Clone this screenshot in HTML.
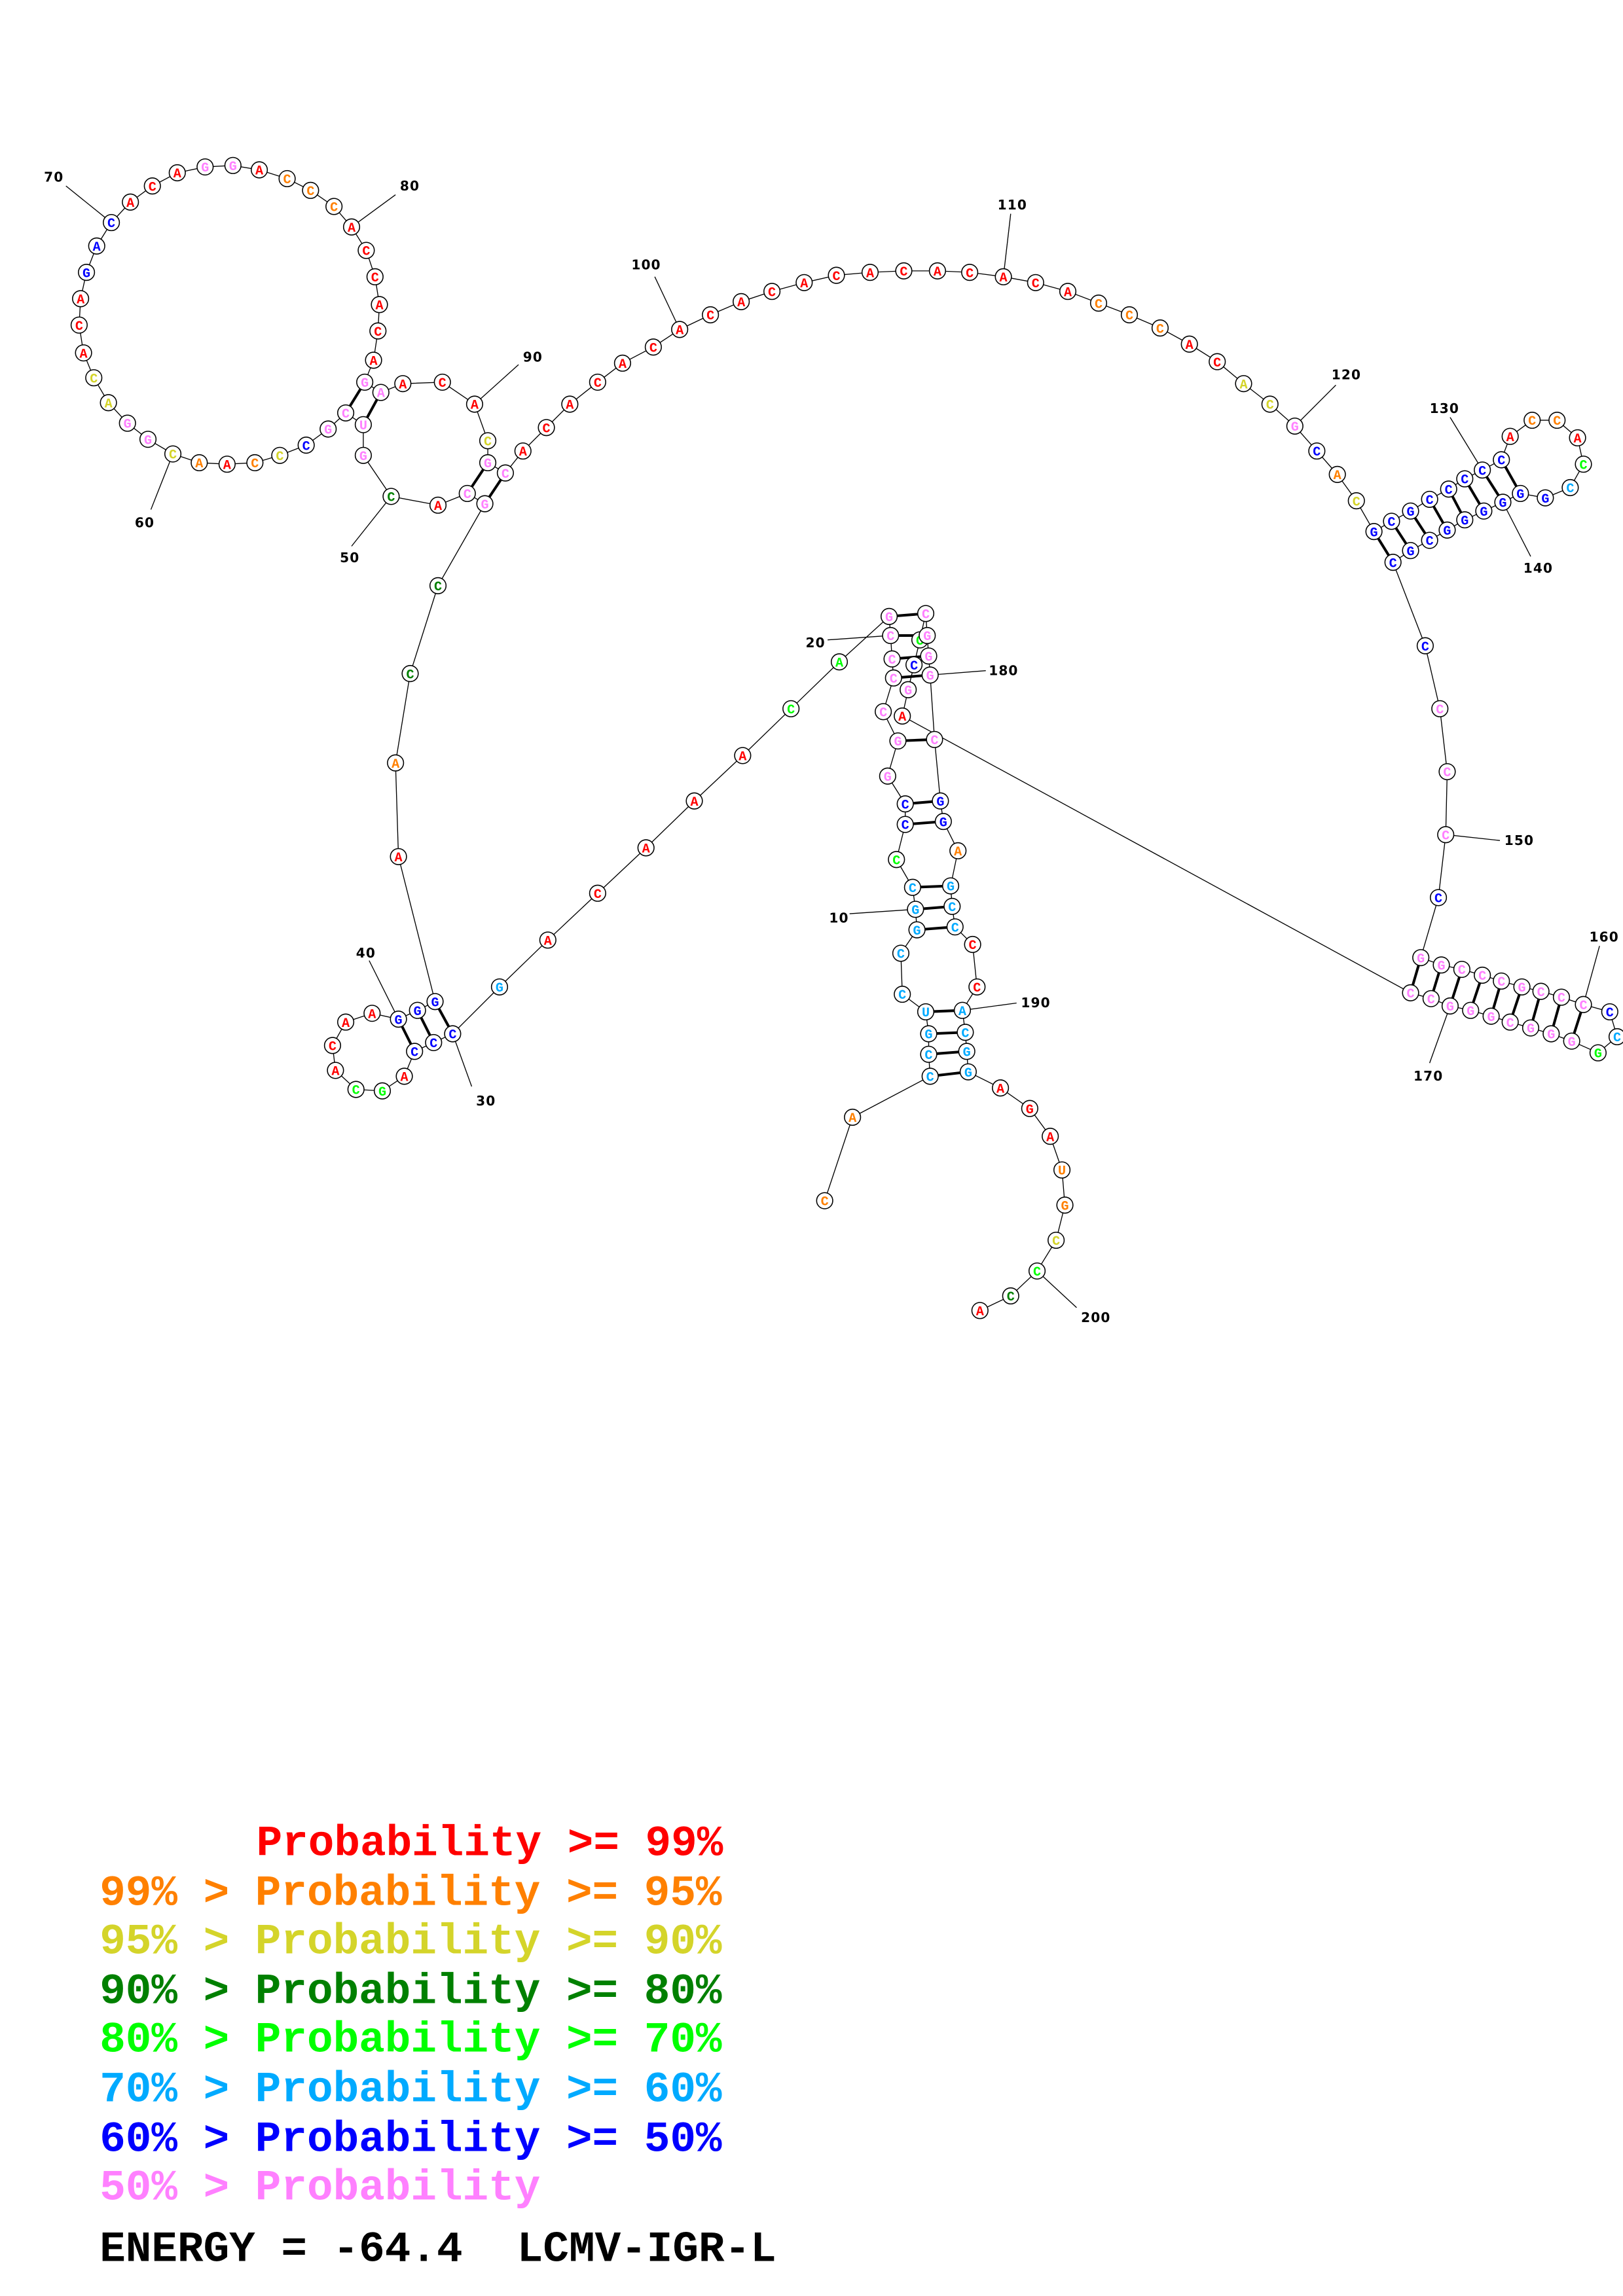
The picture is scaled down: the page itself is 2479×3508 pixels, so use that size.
<!DOCTYPE html>
<html><head><meta charset="utf-8"><style>
html,body{margin:0;padding:0;background:#fff}
svg{display:block}
.n circle{fill:#fff;stroke:#000;stroke-width:0.7}
.n text{font-family:"Liberation Mono",monospace;font-weight:bold;font-size:9px;text-anchor:middle}
.R{fill:#ff0000}.O{fill:#ff8000}.Y{fill:#d4d42a}.D{fill:#008000}.L{fill:#00ff00}.B{fill:#00aaff}.U{fill:#0000ff}.P{fill:#ff80ff}
.lab{font-family:"DejaVu Sans",sans-serif;font-weight:bold;font-size:9px;fill:#000;letter-spacing:0.5px}
.leg{font-family:"Liberation Mono",monospace;font-weight:bold;font-size:29.5px}
</style></head><body>
<svg width="2479" height="3508" viewBox="0 0 1108 1568" xmlns="http://www.w3.org/2000/svg">
<polyline fill="none" stroke="#000" stroke-width="0.6" points="563,820 582,763 635,735 634,720 634,706 632,691 616,679 615,651 626,635 625,621 623,606 612,587 618,563 618,549 606,530 613,506 603,486 610,463 609,450 608,434 607,421 573,452 540,484 507,516 474,547 441,579 408,610 374,642 341,674 309,706 296,712 283,718 276,735 261,745 243,744 229,731 227,714 236,698 254,692 272,696 285,690 297,684 272,585 270,521 280,460 299,400 331,344 319,337 299,345 267,339 248,311 248,290 236,282 224,293 209,304 191,311 174,316 155,317 136,316 118,310 101,300 87,289 74,275 64,258 57,241 54,222 55,204 59,186 66,168 76,152 89,138 104,127 121,118 140,114 159,113 177,116 196,122 212,130 228,141 240,155 250,171 256,189 259,208 258,226 255,246 249,261 260,268 275,262 302,261 324,276 333,301 333,316 345,323 357,308 373,292 389,276 408,261 425,248 446,237 464,225 485,215 506,206 527,199 549,193 571,188 594,186 617,185 640,185 662,186 685,189 707,193 729,199 750,207 771,215 792,224 812,235 831,247 849,262 867,276 884,291 899,308 913,324 926,342 938,363 950,356 963,349 976,341 989,334 1000,327 1012,321 1025,314 1031,298 1046,287 1063,287 1077,299 1081,317 1072,333 1055,340 1038,337 1026,343 1013,349 1000,355 988,362 976,369 963,376 951,384 973,441 983,484 988,527 987,570 982,613 970,654 984,659 998,662 1012,666 1025,670 1039,674 1052,677 1066,681 1081,686 1099,691 1104,708 1091,719 1073,711 1059,706 1045,702 1031,698 1018,694 1004,690 990,687 977,682 963,678 616,489 620,471 624,454 628,437 632,419 633,434 634,448 635,461 638,505 642,547 644,561 654,581 649,605 650,619 652,633 664,645 667,674 657,690 659,705 660,718 661,732 683,743 703,757 717,776 725,799 727,823 721,847 708,868 690,885 669,895"/>
<g stroke="#000" stroke-width="1.8">
<line x1="635" y1="735" x2="661" y2="732"/><line x1="634" y1="720" x2="660" y2="718"/><line x1="634" y1="706" x2="659" y2="705"/><line x1="632" y1="691" x2="657" y2="690"/>
<line x1="626" y1="635" x2="652" y2="633"/><line x1="625" y1="621" x2="650" y2="619"/><line x1="623" y1="606" x2="649" y2="605"/>
<line x1="618" y1="563" x2="644" y2="561"/><line x1="618" y1="549" x2="642" y2="547"/><line x1="613" y1="506" x2="638" y2="505"/>
<line x1="610" y1="463" x2="635" y2="461"/><line x1="609" y1="450" x2="634" y2="448"/><line x1="608" y1="434" x2="633" y2="434"/><line x1="607" y1="421" x2="632" y2="419"/>
<line x1="309" y1="706" x2="297" y2="684"/><line x1="296" y1="712" x2="285" y2="690"/><line x1="283" y1="718" x2="272" y2="696"/>
<line x1="331" y1="344" x2="345" y2="323"/><line x1="319" y1="337" x2="333" y2="316"/><line x1="248" y1="290" x2="260" y2="268"/><line x1="236" y1="282" x2="249" y2="261"/>
<line x1="938" y1="363" x2="951" y2="384"/><line x1="950" y1="356" x2="963" y2="376"/><line x1="963" y1="349" x2="976" y2="369"/><line x1="976" y1="341" x2="988" y2="362"/><line x1="989" y1="334" x2="1000" y2="355"/><line x1="1000" y1="327" x2="1013" y2="349"/><line x1="1012" y1="321" x2="1026" y2="343"/><line x1="1025" y1="314" x2="1038" y2="337"/>
<line x1="970" y1="654" x2="963" y2="678"/><line x1="984" y1="659" x2="977" y2="682"/><line x1="998" y1="662" x2="990" y2="687"/><line x1="1012" y1="666" x2="1004" y2="690"/><line x1="1025" y1="670" x2="1018" y2="694"/><line x1="1039" y1="674" x2="1031" y2="698"/><line x1="1052" y1="677" x2="1045" y2="702"/><line x1="1066" y1="681" x2="1059" y2="706"/><line x1="1081" y1="686" x2="1073" y2="711"/>
</g>
<g stroke="#000" stroke-width="0.6">
<line x1="580" y1="624" x2="625" y2="621"/><line x1="565" y1="437" x2="608" y2="434"/><line x1="322" y1="742" x2="309" y2="706"/><line x1="252" y1="656" x2="272" y2="696"/><line x1="240" y1="373" x2="267" y2="339"/><line x1="103" y1="348" x2="118" y2="310"/><line x1="45" y1="127" x2="76" y2="152"/><line x1="270" y1="133" x2="240" y2="155"/><line x1="354" y1="249" x2="324" y2="276"/><line x1="447" y1="189" x2="464" y2="225"/><line x1="690" y1="146" x2="685" y2="189"/><line x1="912" y1="263" x2="884" y2="291"/><line x1="990" y1="285" x2="1012" y2="321"/><line x1="1045" y1="380" x2="1026" y2="343"/><line x1="987" y1="570" x2="1024" y2="574"/><line x1="1092" y1="646" x2="1081" y2="686"/><line x1="976" y1="726" x2="990" y2="687"/><line x1="635" y1="461" x2="673" y2="458"/><line x1="657" y1="690" x2="694" y2="685"/><line x1="708" y1="868" x2="735" y2="893"/>
</g>
<g>
<text class="lab" x="566" y="630">10</text><text class="lab" x="550" y="442">20</text><text class="lab" x="325" y="755">30</text><text class="lab" x="243" y="654">40</text><text class="lab" x="232" y="384">50</text><text class="lab" x="92" y="360">60</text><text class="lab" x="30" y="124">70</text><text class="lab" x="273" y="130">80</text><text class="lab" x="357" y="247">90</text><text class="lab" x="431" y="184">100</text><text class="lab" x="681" y="143">110</text><text class="lab" x="909" y="259">120</text><text class="lab" x="976" y="282">130</text><text class="lab" x="1040" y="391">140</text><text class="lab" x="1027" y="577">150</text><text class="lab" x="1085" y="643">160</text><text class="lab" x="965" y="738">170</text><text class="lab" x="675" y="461">180</text><text class="lab" x="697" y="688">190</text><text class="lab" x="738" y="903">200</text>
</g>
<g class="n">
<circle cx="563" cy="820" r="5.5"/><text x="563" y="823.2" class="O">C</text>
<circle cx="582" cy="763" r="5.5"/><text x="582" y="766.2" class="O">A</text>
<circle cx="635" cy="735" r="5.5"/><text x="635" y="738.2" class="B">C</text>
<circle cx="634" cy="720" r="5.5"/><text x="634" y="723.2" class="B">C</text>
<circle cx="634" cy="706" r="5.5"/><text x="634" y="709.2" class="B">G</text>
<circle cx="632" cy="691" r="5.5"/><text x="632" y="694.2" class="B">U</text>
<circle cx="616" cy="679" r="5.5"/><text x="616" y="682.2" class="B">C</text>
<circle cx="615" cy="651" r="5.5"/><text x="615" y="654.2" class="B">C</text>
<circle cx="626" cy="635" r="5.5"/><text x="626" y="638.2" class="B">G</text>
<circle cx="625" cy="621" r="5.5"/><text x="625" y="624.2" class="B">G</text>
<circle cx="623" cy="606" r="5.5"/><text x="623" y="609.2" class="B">C</text>
<circle cx="612" cy="587" r="5.5"/><text x="612" y="590.2" class="L">C</text>
<circle cx="618" cy="563" r="5.5"/><text x="618" y="566.2" class="U">C</text>
<circle cx="618" cy="549" r="5.5"/><text x="618" y="552.2" class="U">C</text>
<circle cx="606" cy="530" r="5.5"/><text x="606" y="533.2" class="P">G</text>
<circle cx="613" cy="506" r="5.5"/><text x="613" y="509.2" class="P">G</text>
<circle cx="603" cy="486" r="5.5"/><text x="603" y="489.2" class="P">C</text>
<circle cx="610" cy="463" r="5.5"/><text x="610" y="466.2" class="P">C</text>
<circle cx="609" cy="450" r="5.5"/><text x="609" y="453.2" class="P">C</text>
<circle cx="608" cy="434" r="5.5"/><text x="608" y="437.2" class="P">C</text>
<circle cx="607" cy="421" r="5.5"/><text x="607" y="424.2" class="P">G</text>
<circle cx="573" cy="452" r="5.5"/><text x="573" y="455.2" class="L">A</text>
<circle cx="540" cy="484" r="5.5"/><text x="540" y="487.2" class="L">C</text>
<circle cx="507" cy="516" r="5.5"/><text x="507" y="519.2" class="R">A</text>
<circle cx="474" cy="547" r="5.5"/><text x="474" y="550.2" class="R">A</text>
<circle cx="441" cy="579" r="5.5"/><text x="441" y="582.2" class="R">A</text>
<circle cx="408" cy="610" r="5.5"/><text x="408" y="613.2" class="R">C</text>
<circle cx="374" cy="642" r="5.5"/><text x="374" y="645.2" class="R">A</text>
<circle cx="341" cy="674" r="5.5"/><text x="341" y="677.2" class="B">G</text>
<circle cx="309" cy="706" r="5.5"/><text x="309" y="709.2" class="U">C</text>
<circle cx="296" cy="712" r="5.5"/><text x="296" y="715.2" class="U">C</text>
<circle cx="283" cy="718" r="5.5"/><text x="283" y="721.2" class="U">C</text>
<circle cx="276" cy="735" r="5.5"/><text x="276" y="738.2" class="R">A</text>
<circle cx="261" cy="745" r="5.5"/><text x="261" y="748.2" class="L">G</text>
<circle cx="243" cy="744" r="5.5"/><text x="243" y="747.2" class="L">C</text>
<circle cx="229" cy="731" r="5.5"/><text x="229" y="734.2" class="R">A</text>
<circle cx="227" cy="714" r="5.5"/><text x="227" y="717.2" class="R">C</text>
<circle cx="236" cy="698" r="5.5"/><text x="236" y="701.2" class="R">A</text>
<circle cx="254" cy="692" r="5.5"/><text x="254" y="695.2" class="R">A</text>
<circle cx="272" cy="696" r="5.5"/><text x="272" y="699.2" class="U">G</text>
<circle cx="285" cy="690" r="5.5"/><text x="285" y="693.2" class="U">G</text>
<circle cx="297" cy="684" r="5.5"/><text x="297" y="687.2" class="U">G</text>
<circle cx="272" cy="585" r="5.5"/><text x="272" y="588.2" class="R">A</text>
<circle cx="270" cy="521" r="5.5"/><text x="270" y="524.2" class="O">A</text>
<circle cx="280" cy="460" r="5.5"/><text x="280" y="463.2" class="D">C</text>
<circle cx="299" cy="400" r="5.5"/><text x="299" y="403.2" class="D">C</text>
<circle cx="331" cy="344" r="5.5"/><text x="331" y="347.2" class="P">G</text>
<circle cx="319" cy="337" r="5.5"/><text x="319" y="340.2" class="P">C</text>
<circle cx="299" cy="345" r="5.5"/><text x="299" y="348.2" class="R">A</text>
<circle cx="267" cy="339" r="5.5"/><text x="267" y="342.2" class="D">C</text>
<circle cx="248" cy="311" r="5.5"/><text x="248" y="314.2" class="P">G</text>
<circle cx="248" cy="290" r="5.5"/><text x="248" y="293.2" class="P">U</text>
<circle cx="236" cy="282" r="5.5"/><text x="236" y="285.2" class="P">C</text>
<circle cx="224" cy="293" r="5.5"/><text x="224" y="296.2" class="P">G</text>
<circle cx="209" cy="304" r="5.5"/><text x="209" y="307.2" class="U">C</text>
<circle cx="191" cy="311" r="5.5"/><text x="191" y="314.2" class="Y">C</text>
<circle cx="174" cy="316" r="5.5"/><text x="174" y="319.2" class="O">C</text>
<circle cx="155" cy="317" r="5.5"/><text x="155" y="320.2" class="R">A</text>
<circle cx="136" cy="316" r="5.5"/><text x="136" y="319.2" class="O">A</text>
<circle cx="118" cy="310" r="5.5"/><text x="118" y="313.2" class="Y">C</text>
<circle cx="101" cy="300" r="5.5"/><text x="101" y="303.2" class="P">G</text>
<circle cx="87" cy="289" r="5.5"/><text x="87" y="292.2" class="P">G</text>
<circle cx="74" cy="275" r="5.5"/><text x="74" y="278.2" class="Y">A</text>
<circle cx="64" cy="258" r="5.5"/><text x="64" y="261.2" class="Y">C</text>
<circle cx="57" cy="241" r="5.5"/><text x="57" y="244.2" class="R">A</text>
<circle cx="54" cy="222" r="5.5"/><text x="54" y="225.2" class="R">C</text>
<circle cx="55" cy="204" r="5.5"/><text x="55" y="207.2" class="R">A</text>
<circle cx="59" cy="186" r="5.5"/><text x="59" y="189.2" class="U">G</text>
<circle cx="66" cy="168" r="5.5"/><text x="66" y="171.2" class="U">A</text>
<circle cx="76" cy="152" r="5.5"/><text x="76" y="155.2" class="U">C</text>
<circle cx="89" cy="138" r="5.5"/><text x="89" y="141.2" class="R">A</text>
<circle cx="104" cy="127" r="5.5"/><text x="104" y="130.2" class="R">C</text>
<circle cx="121" cy="118" r="5.5"/><text x="121" y="121.2" class="R">A</text>
<circle cx="140" cy="114" r="5.5"/><text x="140" y="117.2" class="P">G</text>
<circle cx="159" cy="113" r="5.5"/><text x="159" y="116.2" class="P">G</text>
<circle cx="177" cy="116" r="5.5"/><text x="177" y="119.2" class="R">A</text>
<circle cx="196" cy="122" r="5.5"/><text x="196" y="125.2" class="O">C</text>
<circle cx="212" cy="130" r="5.5"/><text x="212" y="133.2" class="O">C</text>
<circle cx="228" cy="141" r="5.5"/><text x="228" y="144.2" class="O">C</text>
<circle cx="240" cy="155" r="5.5"/><text x="240" y="158.2" class="R">A</text>
<circle cx="250" cy="171" r="5.5"/><text x="250" y="174.2" class="R">C</text>
<circle cx="256" cy="189" r="5.5"/><text x="256" y="192.2" class="R">C</text>
<circle cx="259" cy="208" r="5.5"/><text x="259" y="211.2" class="R">A</text>
<circle cx="258" cy="226" r="5.5"/><text x="258" y="229.2" class="R">C</text>
<circle cx="255" cy="246" r="5.5"/><text x="255" y="249.2" class="R">A</text>
<circle cx="249" cy="261" r="5.5"/><text x="249" y="264.2" class="P">G</text>
<circle cx="260" cy="268" r="5.5"/><text x="260" y="271.2" class="P">A</text>
<circle cx="275" cy="262" r="5.5"/><text x="275" y="265.2" class="R">A</text>
<circle cx="302" cy="261" r="5.5"/><text x="302" y="264.2" class="R">C</text>
<circle cx="324" cy="276" r="5.5"/><text x="324" y="279.2" class="R">A</text>
<circle cx="333" cy="301" r="5.5"/><text x="333" y="304.2" class="Y">C</text>
<circle cx="333" cy="316" r="5.5"/><text x="333" y="319.2" class="P">G</text>
<circle cx="345" cy="323" r="5.5"/><text x="345" y="326.2" class="P">C</text>
<circle cx="357" cy="308" r="5.5"/><text x="357" y="311.2" class="R">A</text>
<circle cx="373" cy="292" r="5.5"/><text x="373" y="295.2" class="R">C</text>
<circle cx="389" cy="276" r="5.5"/><text x="389" y="279.2" class="R">A</text>
<circle cx="408" cy="261" r="5.5"/><text x="408" y="264.2" class="R">C</text>
<circle cx="425" cy="248" r="5.5"/><text x="425" y="251.2" class="R">A</text>
<circle cx="446" cy="237" r="5.5"/><text x="446" y="240.2" class="R">C</text>
<circle cx="464" cy="225" r="5.5"/><text x="464" y="228.2" class="R">A</text>
<circle cx="485" cy="215" r="5.5"/><text x="485" y="218.2" class="R">C</text>
<circle cx="506" cy="206" r="5.5"/><text x="506" y="209.2" class="R">A</text>
<circle cx="527" cy="199" r="5.5"/><text x="527" y="202.2" class="R">C</text>
<circle cx="549" cy="193" r="5.5"/><text x="549" y="196.2" class="R">A</text>
<circle cx="571" cy="188" r="5.5"/><text x="571" y="191.2" class="R">C</text>
<circle cx="594" cy="186" r="5.5"/><text x="594" y="189.2" class="R">A</text>
<circle cx="617" cy="185" r="5.5"/><text x="617" y="188.2" class="R">C</text>
<circle cx="640" cy="185" r="5.5"/><text x="640" y="188.2" class="R">A</text>
<circle cx="662" cy="186" r="5.5"/><text x="662" y="189.2" class="R">C</text>
<circle cx="685" cy="189" r="5.5"/><text x="685" y="192.2" class="R">A</text>
<circle cx="707" cy="193" r="5.5"/><text x="707" y="196.2" class="R">C</text>
<circle cx="729" cy="199" r="5.5"/><text x="729" y="202.2" class="R">A</text>
<circle cx="750" cy="207" r="5.5"/><text x="750" y="210.2" class="O">C</text>
<circle cx="771" cy="215" r="5.5"/><text x="771" y="218.2" class="O">C</text>
<circle cx="792" cy="224" r="5.5"/><text x="792" y="227.2" class="O">C</text>
<circle cx="812" cy="235" r="5.5"/><text x="812" y="238.2" class="R">A</text>
<circle cx="831" cy="247" r="5.5"/><text x="831" y="250.2" class="R">C</text>
<circle cx="849" cy="262" r="5.5"/><text x="849" y="265.2" class="Y">A</text>
<circle cx="867" cy="276" r="5.5"/><text x="867" y="279.2" class="Y">C</text>
<circle cx="884" cy="291" r="5.5"/><text x="884" y="294.2" class="P">G</text>
<circle cx="899" cy="308" r="5.5"/><text x="899" y="311.2" class="U">C</text>
<circle cx="913" cy="324" r="5.5"/><text x="913" y="327.2" class="O">A</text>
<circle cx="926" cy="342" r="5.5"/><text x="926" y="345.2" class="Y">C</text>
<circle cx="938" cy="363" r="5.5"/><text x="938" y="366.2" class="U">G</text>
<circle cx="950" cy="356" r="5.5"/><text x="950" y="359.2" class="U">C</text>
<circle cx="963" cy="349" r="5.5"/><text x="963" y="352.2" class="U">G</text>
<circle cx="976" cy="341" r="5.5"/><text x="976" y="344.2" class="U">C</text>
<circle cx="989" cy="334" r="5.5"/><text x="989" y="337.2" class="U">C</text>
<circle cx="1000" cy="327" r="5.5"/><text x="1000" y="330.2" class="U">C</text>
<circle cx="1012" cy="321" r="5.5"/><text x="1012" y="324.2" class="U">C</text>
<circle cx="1025" cy="314" r="5.5"/><text x="1025" y="317.2" class="U">C</text>
<circle cx="1031" cy="298" r="5.5"/><text x="1031" y="301.2" class="R">A</text>
<circle cx="1046" cy="287" r="5.5"/><text x="1046" y="290.2" class="O">C</text>
<circle cx="1063" cy="287" r="5.5"/><text x="1063" y="290.2" class="O">C</text>
<circle cx="1077" cy="299" r="5.5"/><text x="1077" y="302.2" class="R">A</text>
<circle cx="1081" cy="317" r="5.5"/><text x="1081" y="320.2" class="L">C</text>
<circle cx="1072" cy="333" r="5.5"/><text x="1072" y="336.2" class="B">C</text>
<circle cx="1055" cy="340" r="5.5"/><text x="1055" y="343.2" class="U">G</text>
<circle cx="1038" cy="337" r="5.5"/><text x="1038" y="340.2" class="U">G</text>
<circle cx="1026" cy="343" r="5.5"/><text x="1026" y="346.2" class="U">G</text>
<circle cx="1013" cy="349" r="5.5"/><text x="1013" y="352.2" class="U">G</text>
<circle cx="1000" cy="355" r="5.5"/><text x="1000" y="358.2" class="U">G</text>
<circle cx="988" cy="362" r="5.5"/><text x="988" y="365.2" class="U">G</text>
<circle cx="976" cy="369" r="5.5"/><text x="976" y="372.2" class="U">C</text>
<circle cx="963" cy="376" r="5.5"/><text x="963" y="379.2" class="U">G</text>
<circle cx="951" cy="384" r="5.5"/><text x="951" y="387.2" class="U">C</text>
<circle cx="973" cy="441" r="5.5"/><text x="973" y="444.2" class="U">C</text>
<circle cx="983" cy="484" r="5.5"/><text x="983" y="487.2" class="P">C</text>
<circle cx="988" cy="527" r="5.5"/><text x="988" y="530.2" class="P">C</text>
<circle cx="987" cy="570" r="5.5"/><text x="987" y="573.2" class="P">C</text>
<circle cx="982" cy="613" r="5.5"/><text x="982" y="616.2" class="U">C</text>
<circle cx="970" cy="654" r="5.5"/><text x="970" y="657.2" class="P">G</text>
<circle cx="984" cy="659" r="5.5"/><text x="984" y="662.2" class="P">G</text>
<circle cx="998" cy="662" r="5.5"/><text x="998" y="665.2" class="P">C</text>
<circle cx="1012" cy="666" r="5.5"/><text x="1012" y="669.2" class="P">C</text>
<circle cx="1025" cy="670" r="5.5"/><text x="1025" y="673.2" class="P">C</text>
<circle cx="1039" cy="674" r="5.5"/><text x="1039" y="677.2" class="P">G</text>
<circle cx="1052" cy="677" r="5.5"/><text x="1052" y="680.2" class="P">C</text>
<circle cx="1066" cy="681" r="5.5"/><text x="1066" y="684.2" class="P">C</text>
<circle cx="1081" cy="686" r="5.5"/><text x="1081" y="689.2" class="P">C</text>
<circle cx="1099" cy="691" r="5.5"/><text x="1099" y="694.2" class="U">C</text>
<circle cx="1104" cy="708" r="5.5"/><text x="1104" y="711.2" class="B">C</text>
<circle cx="1091" cy="719" r="5.5"/><text x="1091" y="722.2" class="L">G</text>
<circle cx="1073" cy="711" r="5.5"/><text x="1073" y="714.2" class="P">G</text>
<circle cx="1059" cy="706" r="5.5"/><text x="1059" y="709.2" class="P">G</text>
<circle cx="1045" cy="702" r="5.5"/><text x="1045" y="705.2" class="P">G</text>
<circle cx="1031" cy="698" r="5.5"/><text x="1031" y="701.2" class="P">C</text>
<circle cx="1018" cy="694" r="5.5"/><text x="1018" y="697.2" class="P">G</text>
<circle cx="1004" cy="690" r="5.5"/><text x="1004" y="693.2" class="P">G</text>
<circle cx="990" cy="687" r="5.5"/><text x="990" y="690.2" class="P">G</text>
<circle cx="977" cy="682" r="5.5"/><text x="977" y="685.2" class="P">C</text>
<circle cx="963" cy="678" r="5.5"/><text x="963" y="681.2" class="P">C</text>
<circle cx="616" cy="489" r="5.5"/><text x="616" y="492.2" class="R">A</text>
<circle cx="620" cy="471" r="5.5"/><text x="620" y="474.2" class="P">G</text>
<circle cx="624" cy="454" r="5.5"/><text x="624" y="457.2" class="U">C</text>
<circle cx="628" cy="437" r="5.5"/><text x="628" y="440.2" class="L">C</text>
<circle cx="632" cy="419" r="5.5"/><text x="632" y="422.2" class="P">C</text>
<circle cx="633" cy="434" r="5.5"/><text x="633" y="437.2" class="P">G</text>
<circle cx="634" cy="448" r="5.5"/><text x="634" y="451.2" class="P">G</text>
<circle cx="635" cy="461" r="5.5"/><text x="635" y="464.2" class="P">G</text>
<circle cx="638" cy="505" r="5.5"/><text x="638" y="508.2" class="P">C</text>
<circle cx="642" cy="547" r="5.5"/><text x="642" y="550.2" class="U">G</text>
<circle cx="644" cy="561" r="5.5"/><text x="644" y="564.2" class="U">G</text>
<circle cx="654" cy="581" r="5.5"/><text x="654" y="584.2" class="O">A</text>
<circle cx="649" cy="605" r="5.5"/><text x="649" y="608.2" class="B">G</text>
<circle cx="650" cy="619" r="5.5"/><text x="650" y="622.2" class="B">C</text>
<circle cx="652" cy="633" r="5.5"/><text x="652" y="636.2" class="B">C</text>
<circle cx="664" cy="645" r="5.5"/><text x="664" y="648.2" class="R">C</text>
<circle cx="667" cy="674" r="5.5"/><text x="667" y="677.2" class="R">C</text>
<circle cx="657" cy="690" r="5.5"/><text x="657" y="693.2" class="B">A</text>
<circle cx="659" cy="705" r="5.5"/><text x="659" y="708.2" class="B">C</text>
<circle cx="660" cy="718" r="5.5"/><text x="660" y="721.2" class="B">G</text>
<circle cx="661" cy="732" r="5.5"/><text x="661" y="735.2" class="B">G</text>
<circle cx="683" cy="743" r="5.5"/><text x="683" y="746.2" class="R">A</text>
<circle cx="703" cy="757" r="5.5"/><text x="703" y="760.2" class="R">G</text>
<circle cx="717" cy="776" r="5.5"/><text x="717" y="779.2" class="R">A</text>
<circle cx="725" cy="799" r="5.5"/><text x="725" y="802.2" class="O">U</text>
<circle cx="727" cy="823" r="5.5"/><text x="727" y="826.2" class="O">G</text>
<circle cx="721" cy="847" r="5.5"/><text x="721" y="850.2" class="Y">C</text>
<circle cx="708" cy="868" r="5.5"/><text x="708" y="871.2" class="L">C</text>
<circle cx="690" cy="885" r="5.5"/><text x="690" y="888.2" class="D">C</text>
<circle cx="669" cy="895" r="5.5"/><text x="669" y="898.2" class="R">A</text>
</g>
<g class="leg">
<text x="175" y="1267" fill="#ff0000">Probability &gt;= 99%</text>
<text x="68" y="1301" fill="#ff8000">99% &gt; Probability &gt;= 95%</text>
<text x="68" y="1334" fill="#d4d42a">95% &gt; Probability &gt;= 90%</text>
<text x="68" y="1368" fill="#008000">90% &gt; Probability &gt;= 80%</text>
<text x="68" y="1401" fill="#00ff00">80% &gt; Probability &gt;= 70%</text>
<text x="68" y="1435" fill="#00aaff">70% &gt; Probability &gt;= 60%</text>
<text x="68" y="1469" fill="#0000ff">60% &gt; Probability &gt;= 50%</text>
<text x="68" y="1502" fill="#ff80ff">50% &gt; Probability</text>
<text x="68" y="1544" fill="#000">ENERGY = -64.4</text>
<text x="353" y="1544" fill="#000">LCMV-IGR-L</text>
</g>
</svg>
</body></html>
